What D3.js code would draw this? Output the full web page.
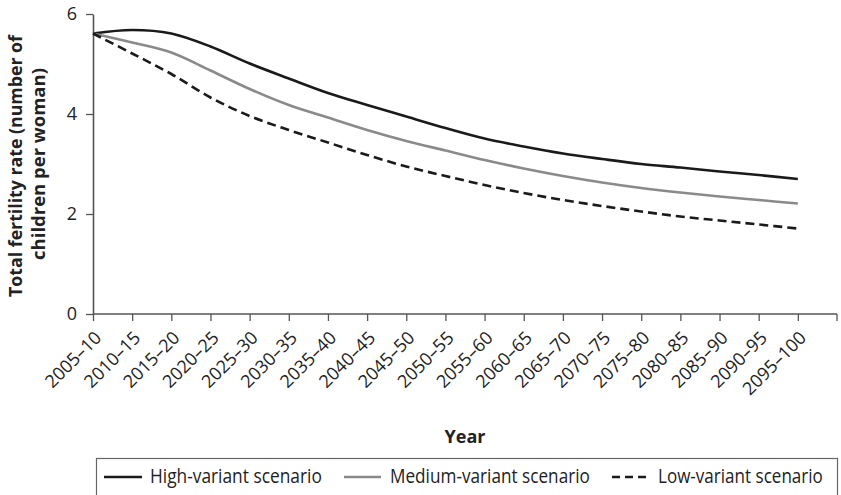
<!DOCTYPE html>
<html>
<head>
<meta charset="utf-8">
<script src="https://cdn.jsdelivr.net/npm/d3@7"></script>
<style>
  html, body { margin: 0; padding: 0; background: #fff; }
  svg { display: block; }
</style>
</head>
<body>
<svg id="chart" width="841" height="495"></svg>
<script>
// ---- data ----
const categories = ["2005–10","2010–15","2015–20","2020–25","2025–30","2030–35","2035–40","2040–45","2045–50","2050–55","2055–60","2060–65","2065–70","2070–75","2075–80","2080–85","2085–90","2090–95","2095–100"];
const highVariant   = [5.61, 5.68, 5.61, 5.35, 5.01, 4.71, 4.42, 4.18, 3.95, 3.72, 3.51, 3.35, 3.21, 3.10, 3.00, 2.93, 2.85, 2.78, 2.70];
const mediumVariant = [5.61, 5.43, 5.23, 4.87, 4.50, 4.18, 3.93, 3.68, 3.46, 3.27, 3.08, 2.91, 2.76, 2.63, 2.52, 2.43, 2.35, 2.28, 2.21];
const lowVariant    = [5.61, 5.21, 4.80, 4.33, 3.96, 3.68, 3.43, 3.18, 2.95, 2.76, 2.58, 2.42, 2.28, 2.16, 2.05, 1.95, 1.87, 1.79, 1.71];
const yTicks = [0, 2, 4, 6];
const seriesNames = ["High-variant scenario", "Medium-variant scenario", "Low-variant scenario"];
const yTitleLines = ["Total fertility rate (number of", "children per woman)"];
const xTitle = "Year";

// ---- layout ----
const plotLeft = 93, plotRight = 837, plotTop = 14, plotBottom = 314;
const step = (plotRight - plotLeft) / categories.length;
const font = "'Open Sans', 'Noto Sans', sans-serif";
const axisColor = "#555";
const textColor = "#222";

const svg = d3.select("#chart");

// horizontally condense a text element to a target width (mimics a condensed face)
function condense(sel, targetWidth, tx, ty, rot) {
  const w = sel.node().getComputedTextLength();
  const k = Math.min(1, targetWidth / w);
  sel.attr("transform", `translate(${tx},${ty})${rot ? ` rotate(${rot})` : ""} scale(${k},1)`);
}

const x = d3.scalePoint().domain(categories).range([plotLeft, plotRight - step]);
const y = d3.scaleLinear().domain([0, 6]).range([plotBottom, plotTop]);

// x axis
const xAxis = svg.append("g")
  .attr("transform", `translate(0,${plotBottom})`)
  .call(d3.axisBottom(x).tickSize(7).tickSizeOuter(0));
xAxis.select(".domain").remove();
xAxis.append("line")
  .attr("x1", plotLeft).attr("x2", plotRight).attr("y1", 0).attr("y2", 0)
  .attr("stroke", axisColor).attr("stroke-width", 1.6);
xAxis.append("line")
  .attr("x1", plotRight).attr("x2", plotRight).attr("y1", 0).attr("y2", 7)
  .attr("stroke", axisColor).attr("stroke-width", 1.3);
xAxis.selectAll(".tick line").attr("stroke", axisColor).attr("stroke-width", 1.3);
xAxis.selectAll(".tick text")
  .attr("x", 0).attr("y", 0).attr("dy", null)
  .attr("text-anchor", "end")
  .attr("transform", "translate(9,25) rotate(-45)")
  .attr("font-family", font).attr("font-size", 18).attr("fill", textColor);

// y axis
const yAxis = svg.append("g")
  .attr("transform", `translate(${plotLeft},0)`)
  .call(d3.axisLeft(y).tickValues(yTicks).tickFormat(d3.format("d")).tickSize(7).tickSizeOuter(0).tickPadding(9));
yAxis.select(".domain").attr("stroke", axisColor).attr("stroke-width", 1.6);
yAxis.selectAll(".tick line").attr("stroke", axisColor).attr("stroke-width", 1.3);
yAxis.selectAll(".tick text")
  .attr("font-family", font).attr("font-size", 18).attr("fill", textColor);

// lines
const series = [
  { name: seriesNames[0], values: highVariant,   color: "#1a1a1a", dash: null },
  { name: seriesNames[1], values: mediumVariant, color: "#8a8a8a", dash: null },
  { name: seriesNames[2], values: lowVariant,    color: "#1a1a1a", dash: "9,5" }
];
const line = d3.line()
  .x((d, i) => x(categories[i]))
  .y(d => y(d))
  .curve(d3.curveCardinal.tension(0));

svg.append("g").selectAll("path")
  .data(series)
  .join("path")
  .attr("d", d => line(d.values))
  .attr("fill", "none")
  .attr("stroke", d => d.color)
  .attr("stroke-width", 2.6)
  .attr("stroke-dasharray", d => d.dash);

// y title
const yTitleWidths = [262, 202];
yTitleLines.forEach((t, i) => {
  const el = svg.append("text")
    .attr("text-anchor", "middle")
    .attr("font-family", font).attr("font-weight", "bold").attr("font-size", 18.5)
    .attr("fill", textColor)
    .text(t);
  condense(el, yTitleWidths[i], 22 + i * 23, 166 - i * 2, -90);
});

// x title
const xt = svg.append("text")
  .attr("text-anchor", "middle")
  .attr("font-family", font).attr("font-weight", "bold").attr("font-size", 18.5)
  .attr("fill", textColor)
  .text(xTitle);
condense(xt, 41, (plotLeft + plotRight) / 2, 443, 0);

// legend
svg.append("rect")
  .attr("x", 96.5).attr("y", 458.5).attr("width", 741).attr("height", 45)
  .attr("fill", "none").attr("stroke", "#666").attr("stroke-width", 1.2);
const legendPos = [
  { x1: 104, x2: 142, tx: 150, tw: 172 },
  { x1: 344, x2: 381, tx: 390, tw: 200 },
  { x1: 612, x2: 646, tx: 658, tw: 165 }
];
const lg = svg.append("g").selectAll("g").data(series).join("g");
lg.append("line")
  .attr("x1", (d, i) => legendPos[i].x1).attr("x2", (d, i) => legendPos[i].x2)
  .attr("y1", 477).attr("y2", 477)
  .attr("stroke", d => d.color).attr("stroke-width", 2.6)
  .attr("stroke-dasharray", d => d.dash ? "8,5" : null);
lg.append("text")
  .attr("font-family", font).attr("font-size", 20.5).attr("fill", textColor)
  .text(d => d.name)
  .each(function(d, i) {
    condense(d3.select(this), legendPos[i].tw, legendPos[i].tx, 483, 0);
  });
</script>
</body>
</html>
